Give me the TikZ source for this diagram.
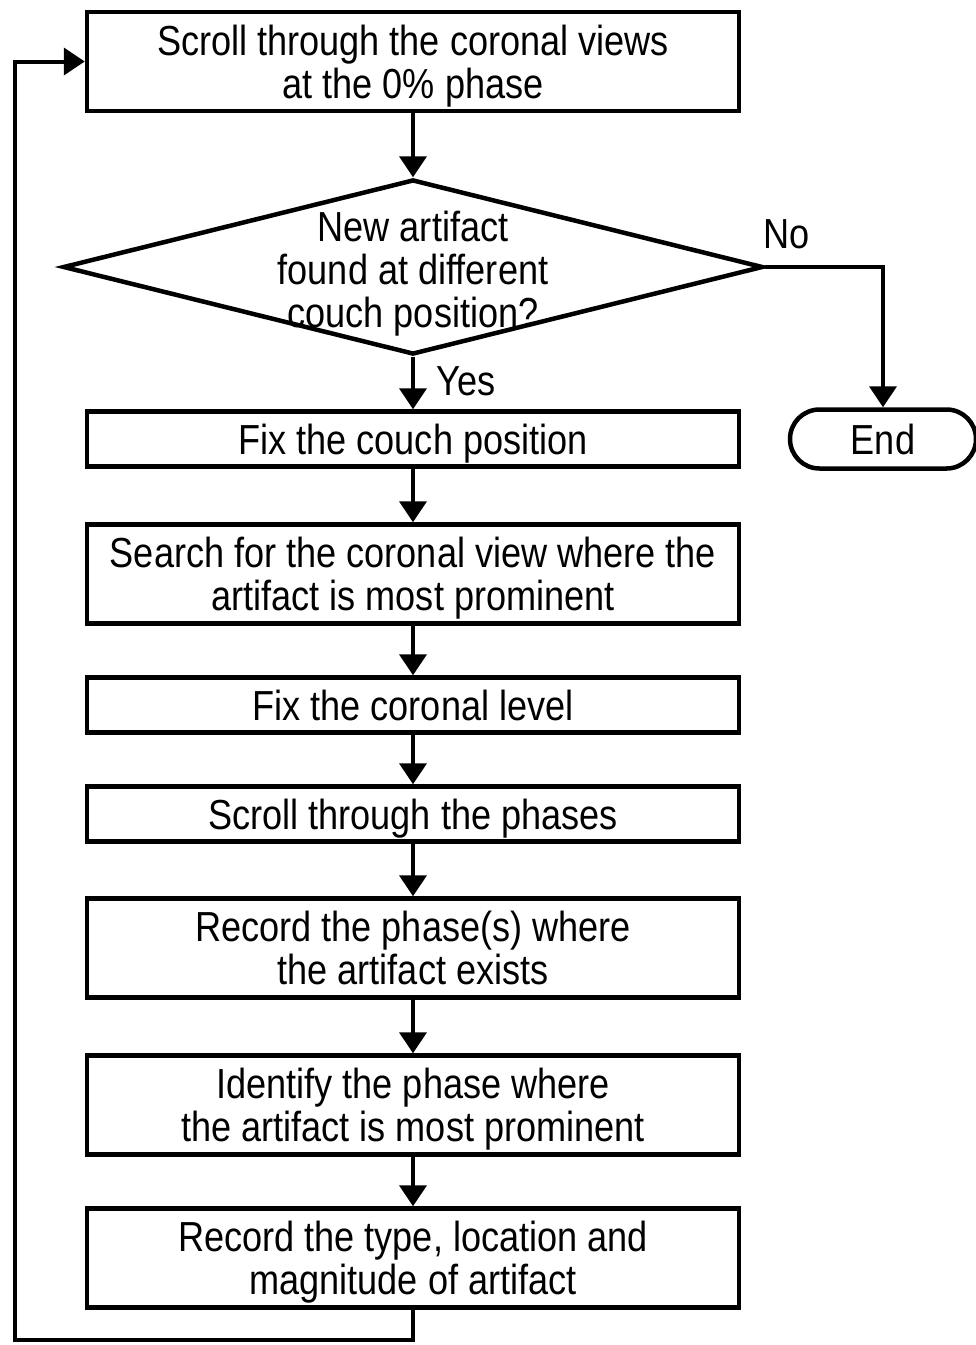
\documentclass[tikz,border=0pt]{standalone}
\usepackage{fontspec}
\setmainfont{Liberation Sans}[FakeStretch=0.86]
\usetikzlibrary{shapes.geometric,shapes.misc,arrows.meta}

\tikzset{
  stepbox/.style={draw, line width=4.5pt, minimum width=652pt, inner sep=0pt,
    text depth=0pt, align=center, font=\fontsize{42}{43}\selectfont},
  choice/.style={diamond, draw, line width=4.5pt, minimum width=700pt,
    minimum height=175pt, inner sep=0pt},
  endbox/.style={rounded rectangle, draw, line width=4.5pt, minimum width=186pt,
    minimum height=59pt, inner sep=0pt, font=\fontsize{42}{43}\selectfont},
  txt/.style={align=center, inner sep=0pt, font=\fontsize{42}{43}\selectfont},
  flow/.style={line width=4pt, -{Triangle[length=21pt,width=27pt]}}
}

\begin{document}
\begin{tikzpicture}[x=1pt,y=-1pt]
  \useasboundingbox (0,0) rectangle (976,1345);

  \node[stepbox, minimum height=99pt] (scroll) at (413,61.5) {Scroll through the coronal views\\at the 0\% phase};
  \node[choice] (newart) at (413,267) {};
  \node[txt] (newarttext) at (413,274) {New artifact\\found at different\\couch position?};
  \node[stepbox, minimum height=55pt] (fixcouch) at (413,439) {Fix the couch position};
  \node[stepbox, minimum height=99pt] (search) at (413,574) {Search for the coronal view where the\\artifact is most prominent};
  \node[stepbox, minimum height=55pt] (fixlevel) at (413,705) {Fix the coronal level};
  \node[stepbox, minimum height=55pt] (phases) at (413,814) {Scroll through the phases};
  \node[stepbox, minimum height=99pt] (record) at (413,948) {Record the phase(s) where\\the artifact exists};
  \node[stepbox, minimum height=99pt] (identify) at (413,1105) {Identify the phase where\\the artifact is most prominent};
  \node[stepbox, minimum height=99pt] (typeloc) at (413,1258) {Record the type, location and\\magnitude of artifact};
  \node[endbox] (end) at (883,439) {End};

  \node[txt] (no) at (787,234) {No};
  \node[txt] (yes) at (466,381) {Yes};

  \draw[flow] (scroll) -- (newart);
  \draw[flow] (newart) -- (fixcouch);
  \draw[flow] (fixcouch) -- (search);
  \draw[flow] (search) -- (fixlevel);
  \draw[flow] (fixlevel) -- (phases);
  \draw[flow] (phases) -- (record);
  \draw[flow] (record) -- (identify);
  \draw[flow] (identify) -- (typeloc);
  \draw[flow] (newart.east) -| (end.north);

  \coordinate (loopbot) at (15,1340);
  \coordinate (looptop) at (15,61.5);
  \draw[flow] (typeloc.south) |- (loopbot) -- (looptop) -- (scroll.west);
\end{tikzpicture}
\end{document}
